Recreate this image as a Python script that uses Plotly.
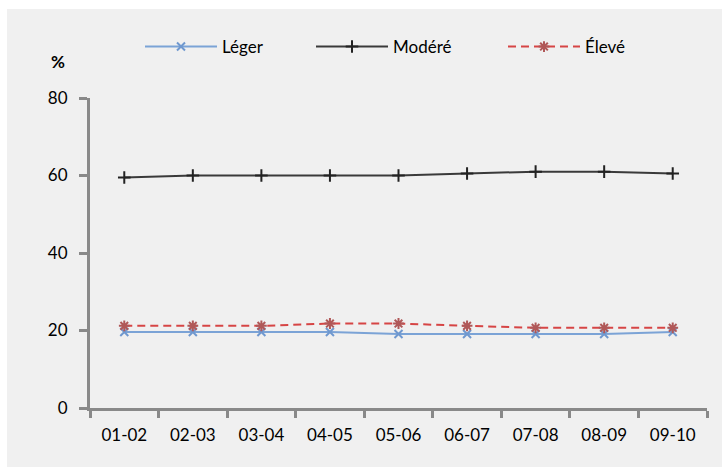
import plotly.graph_objects as go

categories = ["01-02", "02-03", "03-04", "04-05", "05-06", "06-07", "07-08", "08-09", "09-10"]
leger = [19.6, 19.6, 19.6, 19.6, 19.1, 19.1, 19.1, 19.1, 19.6]
modere = [59.5, 60.0, 60.0, 60.0, 60.0, 60.5, 61.0, 61.0, 60.5]
eleve = [21.2, 21.2, 21.2, 21.8, 21.8, 21.2, 20.7, 20.7, 20.7]
y_ticks = [0, 20, 40, 60, 80]

W, H = 722, 467
ML, MR, MT, MB = 90, 15, 98, 59
pw, ph = W - ML - MR, H - MT - MB

def px_x(p):
    return (p - ML) / pw

def px_y(p):
    return (H - MB - p) / ph

FONT = "Lato, sans-serif"

fig = go.Figure()
fig.add_trace(go.Scatter(
    x=categories, y=leger, name="Léger", mode="lines+markers", legend="legend",
    line=dict(color="#7ba3d6", width=2),
    marker=dict(symbol="x-thin-open", size=8, color="#6f98cf", line=dict(width=2, color="#6f98cf")),
))
fig.add_trace(go.Scatter(
    x=categories, y=modere, name="Modéré", mode="lines+markers", legend="legend2",
    line=dict(color="#3a3a3a", width=2),
    marker=dict(symbol="cross-thin-open", size=9, color="#222222", line=dict(width=2, color="#222222")),
))
fig.add_trace(go.Scatter(
    x=categories, y=eleve, name="Élevé", mode="lines+markers", legend="legend3",
    line=dict(color="#d64545", width=2, dash="8px,5px"),
    marker=dict(symbol="asterisk-open", size=9, color="#b05858", line=dict(width=2, color="#b05858")),
))

fig.add_shape(type="rect", xref="paper", yref="paper",
              x0=px_x(7), x1=px_x(724), y0=px_y(467), y1=px_y(9),
              fillcolor="#f0f0f0", line=dict(width=0), layer="below")

fig.add_annotation(text="<b>%</b>", xref="paper", yref="paper",
                   x=px_x(58), y=px_y(62), xanchor="center", yanchor="middle", showarrow=False,
                   font=dict(family=FONT, size=17, color="#000000"))

leg_common = dict(orientation="h", yanchor="middle", xanchor="left",
                  bgcolor="rgba(0,0,0,0)", font=dict(family=FONT, size=17), itemwidth=72)

fig.update_layout(
    width=W, height=H,
    margin=dict(l=ML, r=MR, t=MT, b=MB),
    paper_bgcolor="#ffffff",
    plot_bgcolor="#f0f0f0",
    font=dict(family=FONT, size=16, color="#000000"),
    showlegend=True,
    legend=dict(x=px_x(140), y=px_y(47), **leg_common),
    legend2=dict(x=px_x(311), y=px_y(47), **leg_common),
    legend3=dict(x=px_x(503), y=px_y(47), **leg_common),
)
fig.update_xaxes(
    type="category", tickson="boundaries", showgrid=False, zeroline=False,
    showline=True, linecolor="#898989", linewidth=3,
    ticks="outside", ticklen=7, tickwidth=3, tickcolor="#898989",
    tickfont=dict(family=FONT, size=17), ticklabelstandoff=10, range=[-0.5, 8.5],
)
fig.update_yaxes(
    range=[0, 80], tickvals=y_ticks, showgrid=False, zeroline=False,
    showline=True, linecolor="#898989", linewidth=3,
    ticks="outside", ticklen=8, tickwidth=3, tickcolor="#898989",
    tickfont=dict(family=FONT, size=17), ticklabelstandoff=8,
)

fig.write_html("out.html")
